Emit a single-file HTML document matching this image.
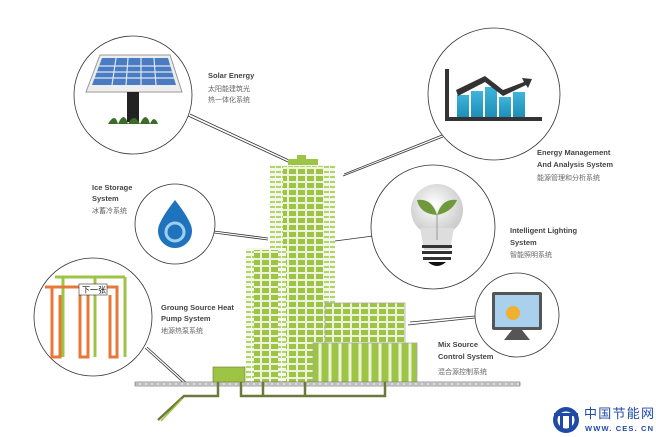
<!DOCTYPE html>
<html><head><meta charset="utf-8"><style>
html,body{margin:0;padding:0;background:#fff;}
svg{display:block;}
text{font-family:"Liberation Sans","Noto Sans CJK SC",sans-serif;}
.en{font-size:7.5px;font-weight:bold;fill:#444;}
.cn{font-size:7px;fill:#666;}
</style></head><body>
<svg width="656" height="437" viewBox="0 0 656 437" xmlns="http://www.w3.org/2000/svg">
<defs>
<pattern id="win" width="9" height="7" patternUnits="userSpaceOnUse">
<rect width="9" height="7" fill="#eef4dc"/><rect x="1" y="1" width="7" height="5" fill="#9dc444"/>
</pattern>
<pattern id="win2" width="10" height="40" patternUnits="userSpaceOnUse">
<rect width="10" height="40" fill="#eef4dc"/><rect x="1.5" y="0" width="7" height="40" fill="#9dc444"/>
</pattern>
<pattern id="side" width="6" height="5" patternUnits="userSpaceOnUse">
<rect width="6" height="5" fill="#f4f8ea"/><rect x="0" y="1" width="5" height="2" fill="#b3d46a"/>
</pattern>
<linearGradient id="bar" x1="0" y1="0" x2="0" y2="1"><stop offset="0" stop-color="#40b4da"/><stop offset="1" stop-color="#1d8fb8"/></linearGradient>
<radialGradient id="bulb" cx="0.45" cy="0.4" r="0.6"><stop offset="0" stop-color="#fff"/><stop offset="1" stop-color="#c9c9c9"/></radialGradient>
</defs>

<g stroke="#333" stroke-width="0.8" fill="none">
<path d="M188 116 L288 162 M190 114 L289 160"/>
<path d="M443 137 L343 176 M442 135 L344 174"/>
<path d="M214 233 L268 240 M214 231 L268 238"/>
<path d="M373 236 L335 241"/>
<path d="M475 318 L408 325 M475 316 L410 322"/>
<path d="M145 348 L187 386 M147 347 L189 385"/>
</g>

<rect x="297" y="155" width="9" height="4" fill="#9dc444"/>
<rect x="288" y="159" width="30" height="8" fill="#9dc444"/>
<rect x="270" y="165" width="65" height="218" fill="url(#side)"/>
<rect x="283" y="167" width="40" height="216" fill="url(#win)"/>
<rect x="246" y="248" width="40" height="135" fill="url(#side)"/>
<rect x="254" y="250" width="24" height="133" fill="url(#win)"/>
<rect x="325" y="303" width="80" height="42" fill="url(#win)" stroke="#aaa" stroke-width="0.8"/>
<rect x="313" y="343" width="104" height="40" fill="url(#win2)" stroke="#aaa" stroke-width="0.8"/>

<rect x="135" y="382" width="385" height="4" fill="#ddd" stroke="#666" stroke-width="0.6"/>
<line x1="135" y1="384" x2="520" y2="384" stroke="#666" stroke-width="0.6" stroke-dasharray="4 2"/>
<rect x="213" y="367" width="32" height="15" fill="#9dc444" stroke="#6a7a30" stroke-width="0.6"/>
<g stroke="#6a7a3a" stroke-width="2.5" fill="none">
<path d="M218 382 V396 H184 L158 420"/>
<path d="M241 382 V396 H385 V382"/>
<path d="M263 382 V396 M305 382 V396"/>
</g>
<path d="M182 399 L161 421" stroke="#9dc444" stroke-width="1.5"/>

<circle cx="133" cy="95" r="59" fill="#fff" stroke="#333" stroke-width="0.8"/>
<polygon points="100,55 170,55 182,92 86,92" fill="#eee" stroke="#999"/>
<polygon points="102,58 168,58 176,85 92,85" fill="#4a7cc4"/>
<g stroke="#dfe6f0" stroke-width="1.2">
<line x1="97" y1="66" x2="171" y2="66"/><line x1="95" y1="72" x2="173" y2="72"/><line x1="93" y1="78" x2="175" y2="78"/>
<line x1="116" y1="58" x2="112" y2="85"/><line x1="128" y1="58" x2="126" y2="85"/><line x1="141" y1="58" x2="141" y2="85"/><line x1="154" y1="58" x2="156" y2="85"/>
</g>
<rect x="127" y="92" width="12" height="30" fill="#222"/>
<path d="M108 124 Q115 112 118 124 Q124 110 128 124 Q134 112 140 124 Q146 110 150 124 Q154 114 158 124 Z" fill="#3d6b2a"/>
<text class="en" x="208" y="78">Solar Energy</text>
<text class="cn" x="208" y="91">太阳能建筑光</text>
<text class="cn" x="208" y="102">热一体化系统</text>

<circle cx="175" cy="224" r="40" fill="#fff" stroke="#333" stroke-width="0.8"/>
<path d="M175 200 Q164 214 160 223 A17 17 0 1 0 190 223 Q186 214 175 200 Z" fill="#1f73bd"/>
<circle cx="175" cy="232" r="9" fill="none" stroke="#9fd0f0" stroke-width="3"/>
<text class="en" x="92" y="190">Ice Storage</text>
<text class="en" x="92" y="201">System</text>
<text class="cn" x="92" y="213">冰蓄冷系统</text>

<circle cx="93" cy="317" r="59" fill="#fff" stroke="#333" stroke-width="0.8"/>
<g fill="none" stroke-width="3">
<path d="M55 277 H125 M63 277 V302 M95 277 V302 M125 277 V357" stroke="#9dc444"/>
<path d="M45 287 H117 V357 H110 V295 M52 287 V357 H60 V295 M80 295 V357 H88 V295" stroke="#e8783a"/>
<path d="M63 302 V357 M95 302 V357" stroke="#9dc444"/>
</g>
<rect x="79" y="284" width="28" height="11" fill="#fff" stroke="#333" stroke-width="0.6"/>
<text x="82" y="292.5" style="font-size:8px;fill:#111">下一张</text>
<text class="en" x="161" y="310">Groung Source Heat</text>
<text class="en" x="161" y="321">Pump System</text>
<text class="cn" x="161" y="333">地源热泵系统</text>

<circle cx="494" cy="94" r="66" fill="#fff" stroke="#333" stroke-width="0.8"/>
<path d="M445 69 V121 H542 V117 H449 V69 Z" fill="#333"/>
<g fill="url(#bar)">
<rect x="457" y="95" width="12" height="22"/><rect x="471" y="91" width="12" height="26"/><rect x="485" y="87" width="12" height="30"/><rect x="499" y="97" width="12" height="20"/><rect x="513" y="92" width="12" height="25"/>
</g>
<path d="M456 90 L485 76 L503 90 L524 82 L522 78 L532 79 L528 88 L526 85 L503 96 L485 82 L458 96 Z" fill="#333"/>
<text class="en" x="537" y="155">Energy Management</text>
<text class="en" x="537" y="167">And Analysis System</text>
<text class="cn" x="537" y="180">能源管理和分析系统</text>

<circle cx="433" cy="227" r="62" fill="#fff" stroke="#333" stroke-width="0.8"/>
<circle cx="437" cy="210" r="26" fill="url(#bulb)"/>
<path d="M420 228 H454 L450 250 H424 Z" fill="#ddd"/>
<g fill="#333"><rect x="422" y="245" width="30" height="3"/><rect x="422" y="251" width="30" height="3"/><rect x="423" y="257" width="28" height="3"/></g>
<path d="M428 262 H446 Q437 270 428 262 Z" fill="#111"/>
<path d="M437 215 Q420 214 417 200 Q432 198 437 215 Z M437 215 Q452 212 457 200 Q442 198 437 215 Z" fill="#6f9a3c"/>
<line x1="437" y1="215" x2="437" y2="240" stroke="#999" stroke-width="1"/>
<text class="en" x="510" y="233">Intelligent Lighting</text>
<text class="en" x="510" y="245">System</text>
<text class="cn" x="510" y="257">智能照明系统</text>

<circle cx="517" cy="315" r="42" fill="#fff" stroke="#333" stroke-width="0.8"/>
<rect x="492" y="292" width="50" height="38" rx="2" fill="#555"/>
<rect x="495" y="295" width="44" height="32" fill="#a9d1ee"/>
<circle cx="513" cy="313" r="7" fill="#f0b030"/>
<path d="M512 330 H522 L530 340 H504 Z" fill="#555"/>
<text class="en" x="438" y="347">Mix Source</text>
<text class="en" x="438" y="359">Control System</text>
<text class="cn" x="438" y="374">混合源控制系统</text>

<circle cx="566" cy="420" r="13" fill="#1f4aa8"/>
<circle cx="566" cy="420" r="8.5" fill="#fff"/>
<rect x="554" y="413" width="24" height="3" fill="#1f4aa8"/>
<rect x="560" y="413" width="3" height="17" fill="#1f4aa8"/><rect x="569" y="413" width="3" height="17" fill="#1f4aa8"/>
<text x="584" y="418" style="font-size:13px;fill:#1f4aa8;font-family:'Noto Sans CJK SC',sans-serif" textLength="70">中国节能网</text>
<text x="585" y="431" style="font-size:7.5px;font-weight:bold;fill:#1f4aa8" textLength="68">WWW. CES. CN</text>
</svg>
</body></html>
